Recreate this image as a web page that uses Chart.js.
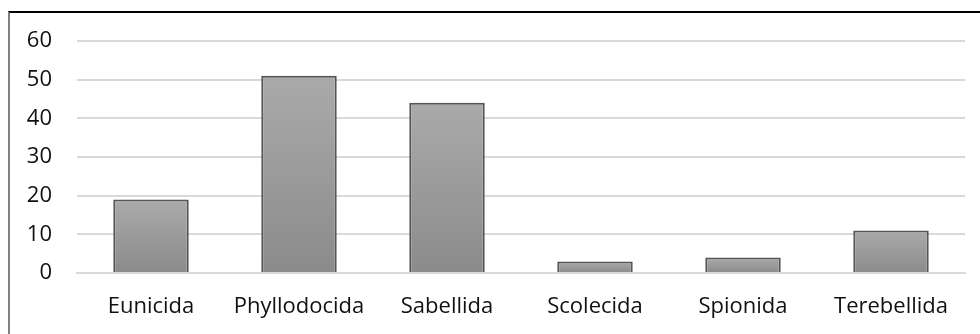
<!DOCTYPE html>
<html>
<head>
<meta charset="utf-8">
<script src="https://cdn.jsdelivr.net/npm/chart.js@4/dist/chart.umd.min.js"></script>
<style>
    html, body { margin: 0; padding: 0; background: #fff; }
    #wrap { position: relative; width: 980px; height: 334px; overflow: hidden; }
    #frame {
        position: absolute; left: 8px; top: 11px; width: 980px; height: 340px;
        border-top: 2px solid #000; border-left: 2px solid #808080;
        box-sizing: border-box; pointer-events: none;
    }
    canvas { position: absolute; left: 0; top: 0; }
</style>
</head>
<body>
<div id="wrap">
    <canvas id="chart" width="980" height="334"></canvas>
    <div id="frame"></div>
</div>
<script>
// polychaete orders and counts
let orders = ["Eunicida", "Phyllodocida", "Sabellida", "Scolecida", "Spionida", "Terebellida"];
let counts = [19, 51, 44, 3, 4, 11];
let yTicks = [0, 10, 20, 30, 40, 50, 60];

let canvas = document.getElementById("chart");
let context = canvas.getContext('2d');
let labelFont = { family: "'Open Sans', sans-serif", size: 22 };

// vertical gradient per bar, light at the top, darker at the base
function barGradient(ctx) {
    let chart = ctx.chart;
    let y = chart.scales.y;
    if (!y || !ctx.parsed) return "#9c9c9c";
    let top = y.getPixelForValue(ctx.parsed.y);
    let bottom = y.getPixelForValue(0);
    if (!isFinite(top) || !isFinite(bottom) || top === bottom) return "#9c9c9c";
    let g = chart.ctx.createLinearGradient(0, top, 0, bottom);
    g.addColorStop(0, "#aaaaaa");
    g.addColorStop(1, "#8b8b8b");
    return g;
}

let chart = new Chart(context, {
    type: 'bar',
    data: {
        labels: orders,
        datasets: [
            {
                data: counts,
                backgroundColor: barGradient,
                borderColor: "#555555",
                borderWidth: 2,
                categoryPercentage: 1,
                barPercentage: 0.51
            }
        ]
    },
    options: {
        responsive: false,
        animation: false,
        layout: { padding: { top: 41, right: 15, left: 0, bottom: 0 } },
        plugins: { legend: { display: false }, tooltip: { enabled: false } },
        scales: {
            x: {
                grid: { display: false },
                border: { display: true, color: "#d9d9d9", width: 2 },
                ticks: { color: "#111", font: labelFont, padding: 13, maxRotation: 0 },
                afterFit: s => { s.height = 61; }
            },
            y: {
                min: 0,
                max: 60,
                afterBuildTicks: s => { s.ticks = yTicks.map(v => ({ value: v })); },
                grid: { color: "#d9d9d9", lineWidth: 2, drawTicks: false },
                border: { display: false },
                ticks: { color: "#111", font: labelFont, padding: 25 },
                afterFit: s => { s.width = 77; }
            }
        }
    }
});
</script>
</body>
</html>
